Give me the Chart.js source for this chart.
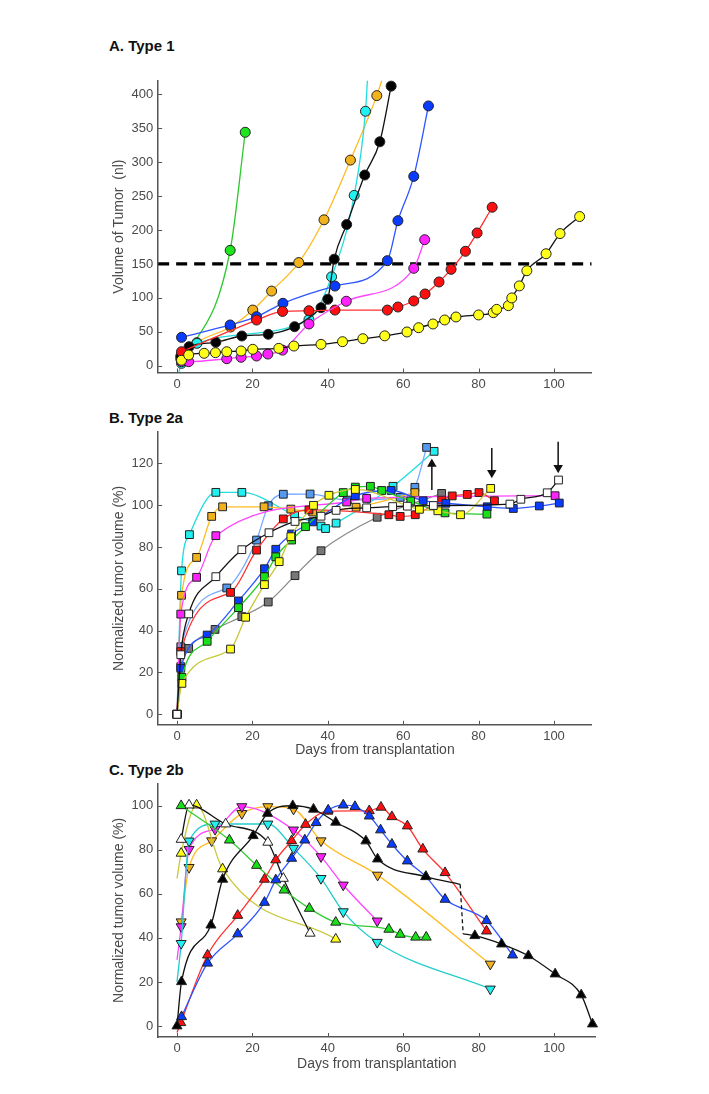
<!DOCTYPE html>
<html>
<head>
<meta charset="utf-8">
<script src="https://cdn.jsdelivr.net/npm/chart.js@4.4.0/dist/chart.umd.min.js"></script>
<style>
  body { margin: 0; width: 709px; height: 1094px; background: #fff; position: relative; overflow: hidden;
         font-family: "Liberation Sans", Arial, sans-serif; }
  .panel-title { position: absolute; left: 109px; font-weight: bold; font-size: 15px; line-height: 17px; color: #111; }
  canvas { position: absolute; left: 0; }
</style>
</head>
<body>
<div class="panel-title" style="top:37px">A. Type 1</div>
<div class="panel-title" style="top:409px">B. Type 2a</div>
<div class="panel-title" style="top:761px">C. Type 2b</div>
<canvas id="chartA" width="709" height="340" style="top:60px"></canvas>
<canvas id="chartB" width="709" height="360" style="top:405px"></canvas>
<canvas id="chartC" width="709" height="329" style="top:765px"></canvas>
<script>
// Shared ticks
const xTicks = [0, 20, 40, 60, 80, 100];
const aTicks = [0, 50, 100, 150, 200, 250, 300, 350, 400];
const bTicks = [0, 20, 40, 60, 80, 100, 120];
const cTicks = [0, 20, 40, 60, 80, 100];
const aThreshold = 150;

// A. Type 1 - [day, volume nl]
const aGreen   = [[14.1,170],[18.1,344]];
const aGreenStart = [[1.5,2]];
const aOrange  = [[1,10],[5.3,34],[14.2,57],[20.1,82],[25.1,110],[32.3,152],[39,215],[46,303],[53,398]];
const aOrangeEnd = [[54.3,420]];
const aCyan    = [[1.2,3.5],[5.3,33],[35,68],[41,131],[47,251],[50,375]];
const aCyanStart = [[0.5,-9]];
const aCyanEnd = [[50.5,420]];
const aBlack   = [[1,14],[3.2,28],[10.3,34.5],[17.2,43.8],[24.2,46.3],[31.2,57.5],[38.2,85.5],[40,97.9],[41.7,157],[45,208],[49.8,281],[53.8,330],[56.8,412]];
const aBlue    = [[1.2,41.8],[14.1,60],[21.1,72.2],[28.1,92],[41.9,117.4],[55.8,154.8],[58.6,213.7],[62.8,279],[66.7,382.8]];
const aRed     = [[1.2,20.6],[21.1,67.3],[28,80],[35,81],[41.9,82],[55.8,82],[58.6,86.5],[62.8,95.4],[65.8,105.7],[69.5,123.4],[72.7,142],[76.5,168.6],[79.6,195.6],[83.6,233.5]];
const aMagenta = [[1.2,6],[3.1,6],[13.2,10.3],[17,12.4],[21.1,14.3],[24.1,17.2],[28,23],[35,61.5],[44.9,95],[62.8,143.5],[65.7,185.7]];
const aYellow  = [[1.2,8],[3.1,15.8],[7.2,18.3],[10.2,19.2],[13.2,20.6],[17,21.7],[20.1,24.2],[27,25.6],[31,29],[38.2,31.5],[43.9,35.4],[49.3,39.8],[55.1,44],[61,49.7],[64.1,56],[67.9,61.5],[71,67.4],[74,71.8],[80,74.8],[83.9,78.2],[84.8,83],[87.9,88.5],[88.8,99.9],[90.8,117.6],[92.8,140],[97.9,165],[101.6,194.7],[106.8,219.8]];

// B. Type 2a - [day, normalized %]
const bCyan    = [[0,0],[1.2,68.6],[3.3,85.9],[10.3,106.1],[17.2,106.1],[31.2,95.2],[38.2,90],[39.4,88.8],[42.2,91.4],[57.3,109],[68.2,125.7]];
const bOrange  = [[0,0],[1.2,56.9],[5.2,75],[9.2,94.6],[12.1,99.2],[23.1,99.2],[30.2,98.1],[36,96.7],[47.5,99],[63.1,106]];
const bMagenta = [[0,0],[1,47.9],[5.2,65.5],[10.3,85.4],[45,101.5],[50.3,103.2],[100.3,104.5]];
const bWhite   = [[0,0],[1,28.5],[3.1,48],[10.3,65.8],[17.2,78.7],[24.4,86.8],[31.3,92.2],[38.2,94.7],[42.2,97.5],[50.3,98.7],[57.2,99.3],[61.1,99.5],[68,99.8],[88.3,100.5],[91.2,102.8],[98.2,105.9],[101.2,112]];
const bLightBlue = [[0,0],[1,32.3],[13.2,60.4],[21.1,83.3],[24.2,99.7],[28.2,105.2],[35.3,105.3],[45.2,102.4],[59.2,103.7],[63.1,108.5],[66.2,127.6]];
const bRed     = [[0,0],[1,30],[14.2,58.3],[21.1,78.5],[28.2,93.4],[35,97.7],[56.2,95.4],[59.2,94.6],[63.2,95.4],[70.2,102.4],[73,104.4],[77,105.1],[80.1,106],[84.2,102.1]];
const bBlue    = [[0,0],[1,22],[8,37.9],[16.3,54.2],[23.2,69.6],[26.2,78.9],[30.4,86.2],[36,92],[47.3,104.5],[56.8,107],[65.3,102.1],[71.3,100.9],[82.3,99.2],[89.2,98.4],[96.1,99.6],[101.4,101]];
const bGreen   = [[0,0],[1.3,17.7],[8,34.9],[16.3,51],[23.2,65.8],[26.2,75.3],[30.4,83.3],[34.1,89.7],[44.1,106],[47.3,108.6],[51.3,109],[54.3,107],[62,102],[71.1,96.3],[82.2,95.7]];
const bYellow  = [[0,0],[1.3,14.8],[14.2,31.2],[18.2,46.4],[23.2,62],[27.1,73],[30.2,84.9],[36.2,99.9],[40.3,104.7],[47.3,107.5],[64.3,98],[69.2,97.3],[75.2,95.4],[83.2,108]];
const bGray    = [[0,0],[1,22.8],[3.1,31.5],[10.1,40.6],[17.2,46.7],[24.2,53.7],[31.3,66.3],[38.2,78.2],[53.1,94.2],[70.2,105.6]];
const bArrowUp    = [[67.6,107.2],[67.6,119.6]];
const bArrowDown1 = [[83.5,127.3],[83.5,115.5]];
const bArrowDown2 = [[101.1,130.3],[101.1,117.9]];

// C. Type 2b - [day, normalized %]
const cGreen   = [[1.1,100],[13.9,84.4],[21.1,72.9],[28.4,61.7],[35.1,53.4],[42.1,47.1],[56.2,43.9],[59.2,41.6],[63.3,40.3],[66.1,40.3]];
const cWhite   = [[1.1,84.7],[3.2,100.3],[12.9,91.7],[24.1,83.4],[28.2,67],[35.3,42.1]];
const cYellow  = [[1.1,78.4],[5.2,100.3],[12.1,71.3],[42.1,39.4]];
const cYellowStart = [[0,67]];
const cOrange  = [[1.1,47.3],[3.2,72],[9.2,84.1],[17.2,96.5],[24.1,99.6],[30.9,98.5],[38.2,84.1],[53.2,68.5],[83.1,28.1]];
const cMagenta = [[1.1,45.1],[3.2,80.2],[10.1,89.3],[17.2,99.6],[30.9,89],[38.2,76.9],[44.1,64],[53.1,47.7]];
const cMagentaStart = [[0,30]];
const cCyan    = [[1.1,37.5],[3.2,84],[10.1,91.7],[24.1,91.7],[30.9,80.7],[38.2,67],[44.1,51.9],[53.1,38],[83.1,16.8]];
const cCyanStart = [[0,20]];
const cBlack1  = [[0,0],[1.2,20.1],[9,45.8],[12.1,66.6],[20.2,86.4],[24,96.5],[30.7,100],[36.2,98.4],[42.1,92.5],[50.1,84],[53.2,75.8],[66,67.8]];
const cBlack1End = [[75.1,64.3]];
const cBlackDrop = [[75.1,64.3],[75.9,41.8]];
const cBlack2Start = [[75.9,41.8]];
const cBlack2  = [[79,41],[86.1,37.2],[93.2,31.9],[100.3,23.6],[107.2,14.1],[110.2,0.9]];
const cRed     = [[1,1.5],[8.1,32.2],[16.1,50.2],[23.2,66.6],[26.2,75.4],[30.4,84.1],[34.1,91.5],[40,97.5],[51,97.7],[54.1,99.3],[57,95],[61.1,90.8],[65.2,80.3],[71.1,69.6],[82.1,43.1]];
const cRedStart = [[0,-3]];
const cBlue    = [[1.2,4.2],[8.1,28.5],[16.1,41.8],[23.2,56.1],[26.2,66.3],[30.4,76.1],[33.9,84.4],[36.9,92.3],[40.1,98],[44.1,100.3],[47.2,99.6],[51,95.3],[54,89],[57,82.5],[61.1,74.9],[66,67.8],[71.1,57.5],[82.1,47.8],[89,32.2]];

const FONT = '"Liberation Sans", Arial, sans-serif';
const TEXT = '#4a4a4a';
const AXIS = '#555';
const OLIVE = '#c8c83a';

// series: markers on pts, pre/post are line only
function series(pts, fill, line, style, opts = {}) {
    const pre = opts.pre || [];
    const post = opts.post || [];
    const n0 = pre.length, n1 = pre.length + pts.length;
    const r = opts.radius || 5;
    return {
        data: pre.concat(pts, post).map(([x, y]) => ({x, y})),
        showLine: true,
        borderColor: line,
        borderWidth: 1.3,
        borderDash: opts.dash || [],
        backgroundColor: fill,
        pointBackgroundColor: fill,
        pointBorderColor: '#222',
        pointBorderWidth: 1,
        pointStyle: style,
        pointRotation: opts.rot || 0,
        pointRadius: c => (c.dataIndex < n0 || c.dataIndex >= n1) ? 0 : r,
        cubicInterpolationMode: 'monotone',
        clip: false,
        order: opts.order || 0
    };
}

function lineOnly(pts, color, opts = {}) {
    return series([], color, color, 'circle', Object.assign({pre: pts}, opts));
}

function arrow(pts, rot) {
    return {
        data: pts.map(([x, y]) => ({x, y})),
        showLine: true,
        borderColor: '#111',
        borderWidth: 1.5,
        pointStyle: 'triangle',
        pointRotation: rot,
        pointBackgroundColor: '#111',
        pointBorderColor: '#111',
        pointRadius: c => c.dataIndex === 1 ? 4 : 0,
        clip: false
    };
}

// inward tick marks
const inwardTicks = {
    id: 'inwardTicks',
    beforeDatasetsDraw(chart) {
        const {ctx, chartArea, scales} = chart;
        ctx.save();
        ctx.strokeStyle = AXIS;
        ctx.lineWidth = 1;
        scales.x.ticks.forEach(t => {
            const px = Math.round(scales.x.getPixelForValue(t.value)) + 0.5;
            ctx.beginPath();
            ctx.moveTo(px, chartArea.bottom);
            ctx.lineTo(px, chartArea.bottom - 4);
            ctx.stroke();
        });
        scales.y.ticks.forEach(t => {
            const py = Math.round(scales.y.getPixelForValue(t.value)) + 0.5;
            ctx.beginPath();
            ctx.moveTo(chartArea.left, py);
            ctx.lineTo(chartArea.left + 4, py);
            ctx.stroke();
        });
        ctx.restore();
    }
};

function makeOptions(cfg) {
    return {
        responsive: false,
        animation: false,
        events: [],
        layout: { padding: cfg.padding },
        plugins: { legend: { display: false }, tooltip: { enabled: false } },
        scales: {
            x: {
                type: 'linear', min: -5, max: cfg.xMax,
                afterBuildTicks: s => { s.ticks = xTicks.map(v => ({value: v})); },
                afterFit: s => { s.height = cfg.xHeight; },
                grid: { display: false, drawTicks: false },
                border: { display: true, color: AXIS, width: 1.5 },
                ticks: { color: TEXT, font: { size: 13, family: FONT }, padding: 4, maxRotation: 0, autoSkip: false },
                title: cfg.xTitle
                    ? { display: true, text: cfg.xTitle, color: TEXT, font: { size: 14, family: FONT }, padding: { top: 0, bottom: 0 } }
                    : { display: false }
            },
            y: {
                type: 'linear', min: cfg.yMin, max: cfg.yMax,
                afterBuildTicks: s => { s.ticks = cfg.yTicks.map(v => ({value: v})); },
                afterFit: s => { s.width = 58.15; },
                grid: { display: false, drawTicks: false },
                border: { display: true, color: AXIS, width: 1.5 },
                ticks: { color: TEXT, font: { size: 13, family: FONT }, padding: 5, autoSkip: false },
                title: { display: true, text: cfg.yTitle, color: TEXT, font: { size: 14, family: FONT }, padding: { top: 10.6, bottom: 0 } }
            }
        }
    };
}

// Panel A
new Chart(document.getElementById('chartA'), {
    type: 'scatter',
    data: { datasets: [
        series(aYellow, '#ffff1a', '#111', 'circle'),
        series(aMagenta, '#ff22ff', '#ff44ff', 'circle'),
        series(aRed, '#ff1010', '#ff3030', 'circle'),
        series(aBlue, '#0a3cff', '#2e55ff', 'circle'),
        series(aBlack, '#000', '#111', 'circle'),
        series(aCyan, '#22f0f0', '#22dddd', 'circle', {pre: aCyanStart, post: aCyanEnd}),
        series(aOrange, '#f2b21c', '#ffbb22', 'circle', {post: aOrangeEnd}),
        series(aGreen, '#1ee61e', '#2dc82d', 'circle', {pre: aGreenStart}),
        {
            data: [{x: -5, y: aThreshold}, {x: 110, y: aThreshold}],
            showLine: true, borderColor: '#000', borderWidth: 3.2, borderDash: [11, 7],
            pointRadius: 0, order: 10
        }
    ]},
    options: makeOptions({
        padding: { left: 100, right: 117.3, top: 20.7, bottom: 7.5 },
        xMax: 110, xHeight: 20, yMin: -10, yMax: 420, yTicks: aTicks,
        yTitle: 'Volume of Tumor  (nl)'
    }),
    plugins: [inwardTicks]
});

// Panel B
const SQ = 5.5;
new Chart(document.getElementById('chartB'), {
    type: 'scatter',
    data: { datasets: [
        arrow(bArrowUp, 0),
        arrow(bArrowDown1, 180),
        arrow(bArrowDown2, 180),
        series(bWhite, '#ffffff', '#111', 'rect', {radius: SQ}),
        series(bYellow, '#ffff1a', OLIVE, 'rect', {radius: SQ}),
        series(bGreen, '#18e018', '#22cc22', 'rect', {radius: SQ}),
        series(bBlue, '#0a3cff', '#2e55ff', 'rect', {radius: SQ}),
        series(bRed, '#ff1010', '#ff3030', 'rect', {radius: SQ}),
        series(bMagenta, '#ff22ff', '#ff44ff', 'rect', {radius: SQ}),
        series(bOrange, '#f2b21c', '#ffbb22', 'rect', {radius: SQ}),
        series(bLightBlue, '#5599ee', '#77aaff', 'rect', {radius: SQ}),
        series(bCyan, '#22f0f0', '#22dddd', 'rect', {radius: SQ}),
        series(bGray, '#777777', '#888888', 'rect', {radius: SQ})
    ]},
    options: makeOptions({
        padding: { left: 100, right: 117.3, top: 26.9, bottom: 6.2 },
        xMax: 110, xHeight: 34, yMin: -5, yMax: 135, yTicks: bTicks,
        yTitle: 'Normalized tumor volume (%)', xTitle: 'Days from transplantation'
    }),
    plugins: [inwardTicks]
});

// Panel C
const TR = 5.8;
new Chart(document.getElementById('chartC'), {
    type: 'scatter',
    data: { datasets: [
        series(cBlack2, '#000', '#111', 'triangle', {radius: TR, pre: cBlack2Start}),
        lineOnly(cBlackDrop, '#111', {dash: [4, 3]}),
        series(cBlack1, '#000', '#111', 'triangle', {radius: TR, post: cBlack1End}),
        series(cBlue, '#0a3cff', '#2e55ff', 'triangle', {radius: TR}),
        series(cRed, '#ff1010', '#ff3030', 'triangle', {radius: TR, pre: cRedStart}),
        series(cGreen, '#18e018', '#33cc33', 'triangle', {radius: TR}),
        series(cWhite, '#ffffff', '#111', 'triangle', {radius: TR}),
        series(cYellow, '#ffff1a', OLIVE, 'triangle', {radius: TR, pre: cYellowStart}),
        series(cCyan, '#22f0f0', '#22cccc', 'triangle', {radius: TR, rot: 180, pre: cCyanStart}),
        series(cMagenta, '#ff22ff', '#ff44ff', 'triangle', {radius: TR, rot: 180, pre: cMagentaStart}),
        series(cOrange, '#f2b21c', '#ffbb22', 'triangle', {radius: TR, rot: 180})
    ]},
    options: makeOptions({
        padding: { left: 100, right: 113.5, top: 18.7, bottom: 21 },
        xMax: 111, xHeight: 36, yMin: -5, yMax: 110, yTicks: cTicks,
        yTitle: 'Normalized tumor volume (%)', xTitle: 'Days from transplantation'
    }),
    plugins: [inwardTicks]
});
</script>
</body>
</html>
